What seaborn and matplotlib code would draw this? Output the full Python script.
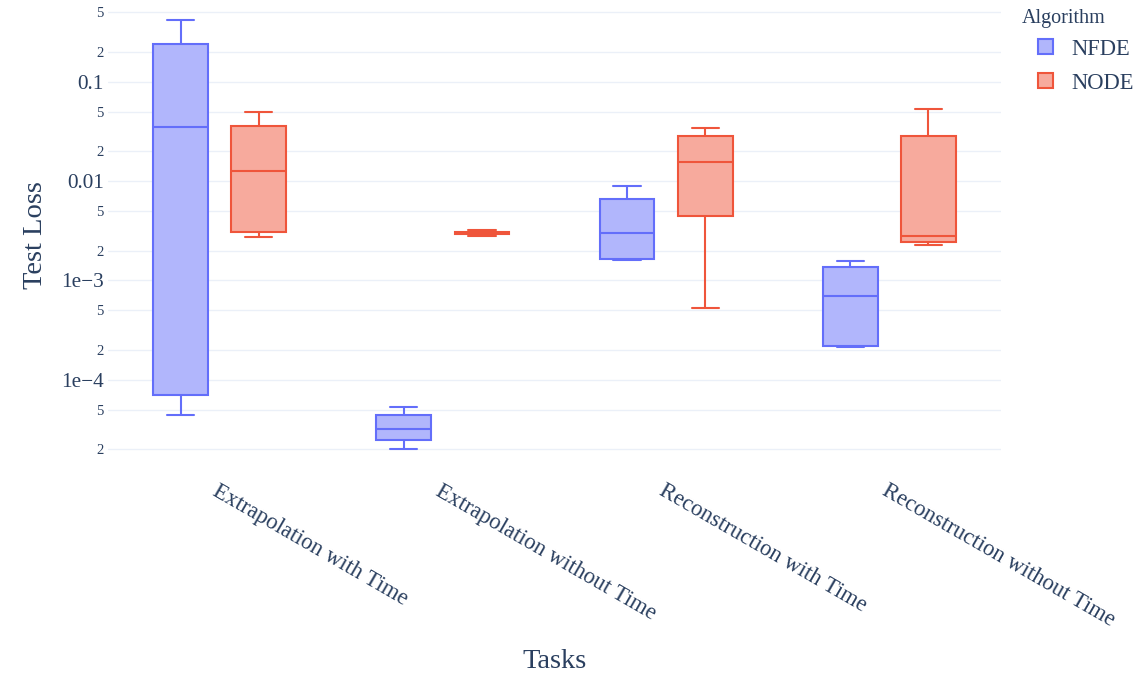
import numpy as np
import pandas as pd
import matplotlib
matplotlib.use("Agg")
import matplotlib.pyplot as plt
import seaborn as sns
from matplotlib.patches import Rectangle
from matplotlib.ticker import FixedLocator, FixedFormatter

# ---- data -------------------------------------------------------------
tasks = ["Extrapolation with Time", "Extrapolation without Time",
         "Reconstruction with Time", "Reconstruction without Time"]
algorithms = ["NFDE", "NODE"]

# test loss of the five runs for each task (sorted)
nfde_extrap_time = [4.4e-5, 7.05e-5, 0.035, 0.242, 0.42]
nfde_extrap_notime = [2.0e-5, 2.5e-5, 3.2e-5, 4.4e-5, 5.3e-5]
nfde_recon_time = [0.00159, 0.00163, 0.00299, 0.00658, 0.0089]
nfde_recon_notime = [2.15e-4, 2.2e-4, 7.05e-4, 0.00138, 0.00156]

node_extrap_time = [0.00272, 0.00305, 0.0126, 0.036, 0.0497]
node_extrap_notime = [0.00281, 0.00295, 0.00302, 0.00309, 0.00324]
node_recon_time = [5.3e-4, 0.00451, 0.0156, 0.0285, 0.0343]
node_recon_notime = [0.00226, 0.00242, 0.00278, 0.0285, 0.0533]

nfde_runs = [nfde_extrap_time, nfde_extrap_notime, nfde_recon_time, nfde_recon_notime]
node_runs = [node_extrap_time, node_extrap_notime, node_recon_time, node_recon_notime]

# y-axis tick values and labels
major_ticks = [1e-4, 1e-3, 1e-2, 1e-1]
major_labels = ["1e\u22124", "1e\u22123", "0.01", "0.1"]
minor_ticks = [2e-5, 5e-5, 2e-4, 5e-4, 2e-3, 5e-3, 2e-2, 5e-2, 2e-1, 5e-1]
minor_labels = ["2", "5", "2", "5", "2", "5", "2", "5", "2", "5"]

rows = []
for alg, runs in zip(algorithms, [nfde_runs, node_runs]):
    for task, vals in zip(tasks, runs):
        rows += [(task, alg, v) for v in vals]
df = pd.DataFrame(rows, columns=["Tasks", "Algorithm", "Test Loss"])

# ---- style ------------------------------------------------------------
sns.set_theme(style="white")
plt.rcParams["font.family"] = ["Liberation Serif", "DejaVu Serif"]
text_color = "#2a3f5f"
grid_color = "#EBF0F8"
line_colors = {"NFDE": "#636EFA", "NODE": "#EF553B"}
fill_colors = {"NFDE": "#B1B6FC", "NODE": "#F7AA9D"}

W, H = 1143, 683
fig = plt.figure(figsize=(W / 100, H / 100), dpi=100)
ax = fig.add_axes([108 / W, 1 - 475 / H, 893 / W, 470 / H])

for alg in algorithms:
    sns.boxplot(
        data=df[df["Algorithm"] == alg], x="Tasks", y="Test Loss",
        hue="Algorithm", order=tasks, hue_order=algorithms,
        palette=fill_colors, saturation=1, linecolor=line_colors[alg],
        linewidth=1.5, width=0.7, gap=0.3, whis=(0, 100), dodge=True,
        log_scale=True, legend=False, ax=ax,
    )

# ---- axes -------------------------------------------------------------
ax.set_yscale("log")
ax.set_ylim(10 ** -4.959, 10 ** -0.226)
ax.set_xlim(-0.5, 3.5)

ax.yaxis.set_major_locator(FixedLocator(major_ticks))
ax.yaxis.set_major_formatter(FixedFormatter(major_labels))
ax.yaxis.set_minor_locator(FixedLocator(minor_ticks))
ax.yaxis.set_minor_formatter(FixedFormatter(minor_labels))
ax.tick_params(axis="y", which="major", labelsize=15.3, length=0, pad=3,
               labelcolor=text_color)
ax.tick_params(axis="y", which="minor", labelsize=10.5, length=0, pad=3,
               labelcolor=text_color)
ax.grid(True, axis="y", which="both", color=grid_color, linewidth=1)
ax.grid(False, axis="x")
ax.set_axisbelow(True)
for s in ax.spines.values():
    s.set_visible(False)

ax.set_xticks(range(len(tasks)))
ax.set_xticklabels(tasks, rotation=-30, ha="left", va="top",
                   rotation_mode="anchor", fontsize=16.3, color=text_color)
ax.tick_params(axis="x", length=0, pad=4)

ax.set_xlabel("")
ax.set_ylabel("")
fig.text(35 / W, 1 - 235 / H, "Test Loss", rotation=90, ha="center",
         va="center", fontsize=20.5, color=text_color)
fig.text(555 / W, 1 - 662 / H, "Tasks", ha="center", va="center",
         fontsize=20.5, color=text_color)

# ---- legend -----------------------------------------------------------
fig.text(1022 / W, 1 - 23.5 / H, "Algorithm", ha="left", va="baseline",
         fontsize=14.5, color=text_color)
for alg, base in zip(algorithms, [55, 89.3]):
    fig.add_artist(Rectangle((1038 / W, 1 - (base - 1) / H), 15 / W, 15 / H,
                             transform=fig.transFigure,
                             facecolor=fill_colors[alg],
                             edgecolor=line_colors[alg], linewidth=1.5))
    fig.text(1071 / W, 1 - base / H, alg, ha="left", va="baseline",
             fontsize=16.3, color=text_color)

fig.savefig("out.png", dpi=100)
